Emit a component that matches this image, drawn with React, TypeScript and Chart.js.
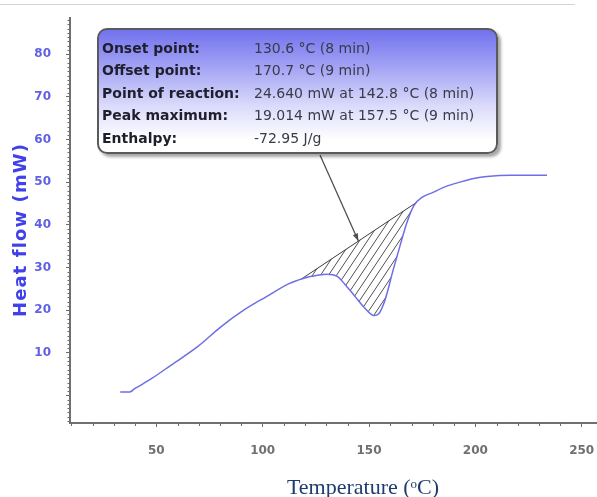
import { useEffect, useRef } from 'react';
import { Chart, registerables } from 'chart.js';

Chart.register(...registerables);

// DSC curve
const temperature = [33, 37.5, 40, 48, 57, 69.4, 80.2, 90.9, 101.6, 112.4, 119, 123, 130, 135, 138.7, 143.4, 148.1, 152.3, 154.7, 157.5, 161.3, 164.6, 167.8, 171.1, 174.9, 180.1, 186.2, 192.8, 199.8, 205.5, 216.3, 233.7];
const heatFlow = [0.8, 0.8, 1.6, 4.0, 7.1, 11.4, 16.0, 19.9, 23.1, 26.2, 27.4, 27.9, 28.4, 27.9, 26.0, 23.2, 20.4, 18.7, 19.2, 22.3, 29.3, 35.1, 40.5, 44.5, 46.4, 47.6, 49.0, 50.0, 50.9, 51.3, 51.6, 51.6];

// integration baseline under the peak
const baselineT = [118, 172.5];
const baselineHF = [27.2, 45.3];

// where the callout arrow points
const arrowAt = { x: 145, y: 36.2 };

const xTicks = [50, 100, 150, 200, 250];
const yTicks = [0, 10, 20, 30, 40, 50, 60, 70, 80];

const boxLabels = ['Onset point:', 'Offset point:', 'Point of reaction:', 'Peak maximum:', 'Enthalpy:'];
const boxValues = ['130.6 °C (8 min)', '170.7 °C (9 min)', '24.640 mW at 142.8 °C (8 min)', '19.014 mW at 157.5 °C (9 min)', '-72.95 J/g'];

const BOX = { left: 97, top: 28, width: 401, height: 126 };
const ARROW_FROM = { x: 320, y: 155 };

function makeHatch(): CanvasPattern | string {
  const c = document.createElement('canvas');
  const w = 8, h = 12;
  c.width = w;
  c.height = h;
  const g = c.getContext('2d');
  if (!g) return 'rgba(0,0,0,0.2)';
  g.strokeStyle = '#505050';
  g.lineWidth = 1;
  g.beginPath();
  for (const off of [-w, 0, w]) {
    g.moveTo(off, h);
    g.lineTo(off + w, 0);
  }
  g.stroke();
  return g.createPattern(c, 'repeat') || '#999';
}

const axisMarks = {
  id: 'axisMarks',
  afterDraw(chart: any) {
    const { ctx, scales: { x, y } } = chart;
    ctx.save();
    ctx.strokeStyle = '#6a6a6a';
    ctx.lineWidth = 1;
    ctx.beginPath();
    // minor ticks
    for (let v = Math.ceil(x.min / 10) * 10; v <= x.max; v += 10) {
      if (v % 50 === 0) continue;
      const px = Math.round(x.getPixelForValue(v)) + 0.5;
      ctx.moveTo(px, x.top);
      ctx.lineTo(px, x.top + 3);
    }
    for (let v = Math.ceil(y.min); v <= y.max; v += 1) {
      if (v % 10 === 0) continue;
      const py = Math.round(y.getPixelForValue(v)) + 0.5;
      ctx.moveTo(y.right - 2.5, py);
      ctx.lineTo(y.right, py);
    }
    ctx.stroke();

    // callout arrow
    const tx = x.getPixelForValue(arrowAt.x);
    const ty = y.getPixelForValue(arrowAt.y);
    ctx.strokeStyle = '#505050';
    ctx.fillStyle = '#505050';
    ctx.lineWidth = 1.3;
    ctx.beginPath();
    ctx.moveTo(ARROW_FROM.x, ARROW_FROM.y);
    ctx.lineTo(tx, ty);
    ctx.stroke();
    const ang = Math.atan2(ty - ARROW_FROM.y, tx - ARROW_FROM.x);
    const len = 8, spread = 0.35;
    ctx.beginPath();
    ctx.moveTo(tx, ty);
    ctx.lineTo(tx - len * Math.cos(ang - spread), ty - len * Math.sin(ang - spread));
    ctx.lineTo(tx - len * Math.cos(ang + spread), ty - len * Math.sin(ang + spread));
    ctx.closePath();
    ctx.fill();
    ctx.restore();
  },
};

export default function App() {
  const canvasRef = useRef<HTMLCanvasElement>(null);
  const chartRef = useRef<Chart | null>(null);

  useEffect(() => {
    if (!canvasRef.current) return;
    if (chartRef.current) chartRef.current.destroy();

    const curve = temperature.map((t, i) => ({ x: t, y: heatFlow[i] }));
    const baseline = baselineT.map((t, i) => ({ x: t, y: baselineHF[i] }));
    const tickFont = { family: '"DejaVu Sans", sans-serif', size: 12, weight: 'bold' as const };

    const config: any = {
      type: 'line',
      data: {
        datasets: [
          {
            data: curve,
            borderColor: '#6e6ee8',
            borderWidth: 1.5,
            pointRadius: 0,
            cubicInterpolationMode: 'monotone',
            fill: false,
          },
          {
            data: baseline,
            borderColor: '#3c3c3c',
            borderWidth: 1,
            pointRadius: 0,
            fill: '-1',
            backgroundColor: makeHatch(),
          },
        ],
      },
      options: {
        responsive: false,
        animation: false,
        layout: { padding: { top: 18, left: 0, right: 0, bottom: 0 } },
        plugins: {
          legend: { display: false },
          tooltip: { enabled: false },
        },
        scales: {
          x: {
            type: 'linear',
            min: 9.4,
            max: 257.2,
            afterBuildTicks: (s: any) => { s.ticks = xTicks.map(v => ({ value: v })); },
            afterFit: (s: any) => { s.height = 74; s.paddingLeft = 0; s.paddingRight = 0; },
            ticks: {
              color: '#707070',
              font: tickFont,
              padding: 17,
              maxRotation: 0,
              callback: (v: number) => String(v),
            },
            grid: { display: true, drawOnChartArea: false, tickLength: 4, tickColor: '#6a6a6a' },
            border: { display: true, color: '#707070', width: 2 },
          },
          y: {
            type: 'linear',
            min: -6.5,
            max: 88.5,
            afterBuildTicks: (s: any) => { s.ticks = yTicks.map(v => ({ value: v })); },
            afterFit: (s: any) => { s.width = 70; s.paddingTop = 0; s.paddingBottom = 0; },
            ticks: {
              color: '#6060e6',
              font: tickFont,
              padding: 15,
              callback: (v: number) => (v === 0 ? '' : String(v)),
            },
            grid: { display: true, drawOnChartArea: false, tickLength: 4, tickColor: '#6a6a6a' },
            border: { display: true, color: '#707070', width: 2 },
          },
        },
      },
      plugins: [axisMarks],
    };

    chartRef.current = new Chart(canvasRef.current, config);
    return () => {
      if (chartRef.current) {
        chartRef.current.destroy();
        chartRef.current = null;
      }
    };
  }, []);

  return (
    <div style={{ position: 'absolute', left: 0, top: 0, width: 597, height: 497, background: '#fff', overflow: 'hidden' }}>
      <div style={{ position: 'absolute', left: 0, top: 4, width: 575, height: 1, background: '#d4d4d4' }} />
      <canvas ref={canvasRef} width={597} height={497} style={{ position: 'absolute', left: 0, top: 0 }} />

      <div
        style={{
          position: 'absolute',
          left: BOX.left,
          top: BOX.top,
          width: BOX.width,
          height: BOX.height,
          boxSizing: 'border-box',
          border: '2px solid #5a5a5a',
          borderRadius: 10,
          background: 'linear-gradient(to bottom, #7272ee 0%, #a2a2f4 30%, #dadafb 62%, #ffffff 90%)',
          boxShadow: '3px 3px 3px rgba(0,0,0,0.35)',
          padding: '7px 0 0 3px',
          display: 'grid',
          gridTemplateColumns: '152px auto',
          gridAutoRows: '22.4px',
          alignItems: 'center',
          fontFamily: '"DejaVu Sans", sans-serif',
          fontSize: 14,
          lineHeight: '22.4px',
          whiteSpace: 'nowrap',
        }}
      >
        {boxLabels.map((l, i) => [
          <span key={'l' + i} style={{ fontWeight: 'bold', color: '#1e1e2c' }}>{l}</span>,
          <span key={'v' + i} style={{ color: '#3a3a48' }}>{boxValues[i]}</span>,
        ])}
      </div>

      <div
        style={{
          position: 'absolute',
          left: 20,
          top: 230,
          transform: 'translate(-50%, -50%) rotate(-90deg)',
          whiteSpace: 'nowrap',
          fontFamily: '"DejaVu Sans", sans-serif',
          fontWeight: 'bold',
          fontSize: 18,
          letterSpacing: 1.1,
          color: '#4040ea',
          lineHeight: '18px',
        }}
      >
        Heat flow (mW)
      </div>

      <div
        style={{
          position: 'absolute',
          left: 363,
          top: 473,
          transform: 'translateX(-50%)',
          whiteSpace: 'nowrap',
          fontFamily: '"Liberation Serif", serif',
          fontSize: 22,
          lineHeight: '22px',
          color: '#1f3c6e',
        }}
      >
        Temperature (<span style={{ fontSize: 13, verticalAlign: 6 }}>o</span>C)
      </div>
    </div>
  );
}
